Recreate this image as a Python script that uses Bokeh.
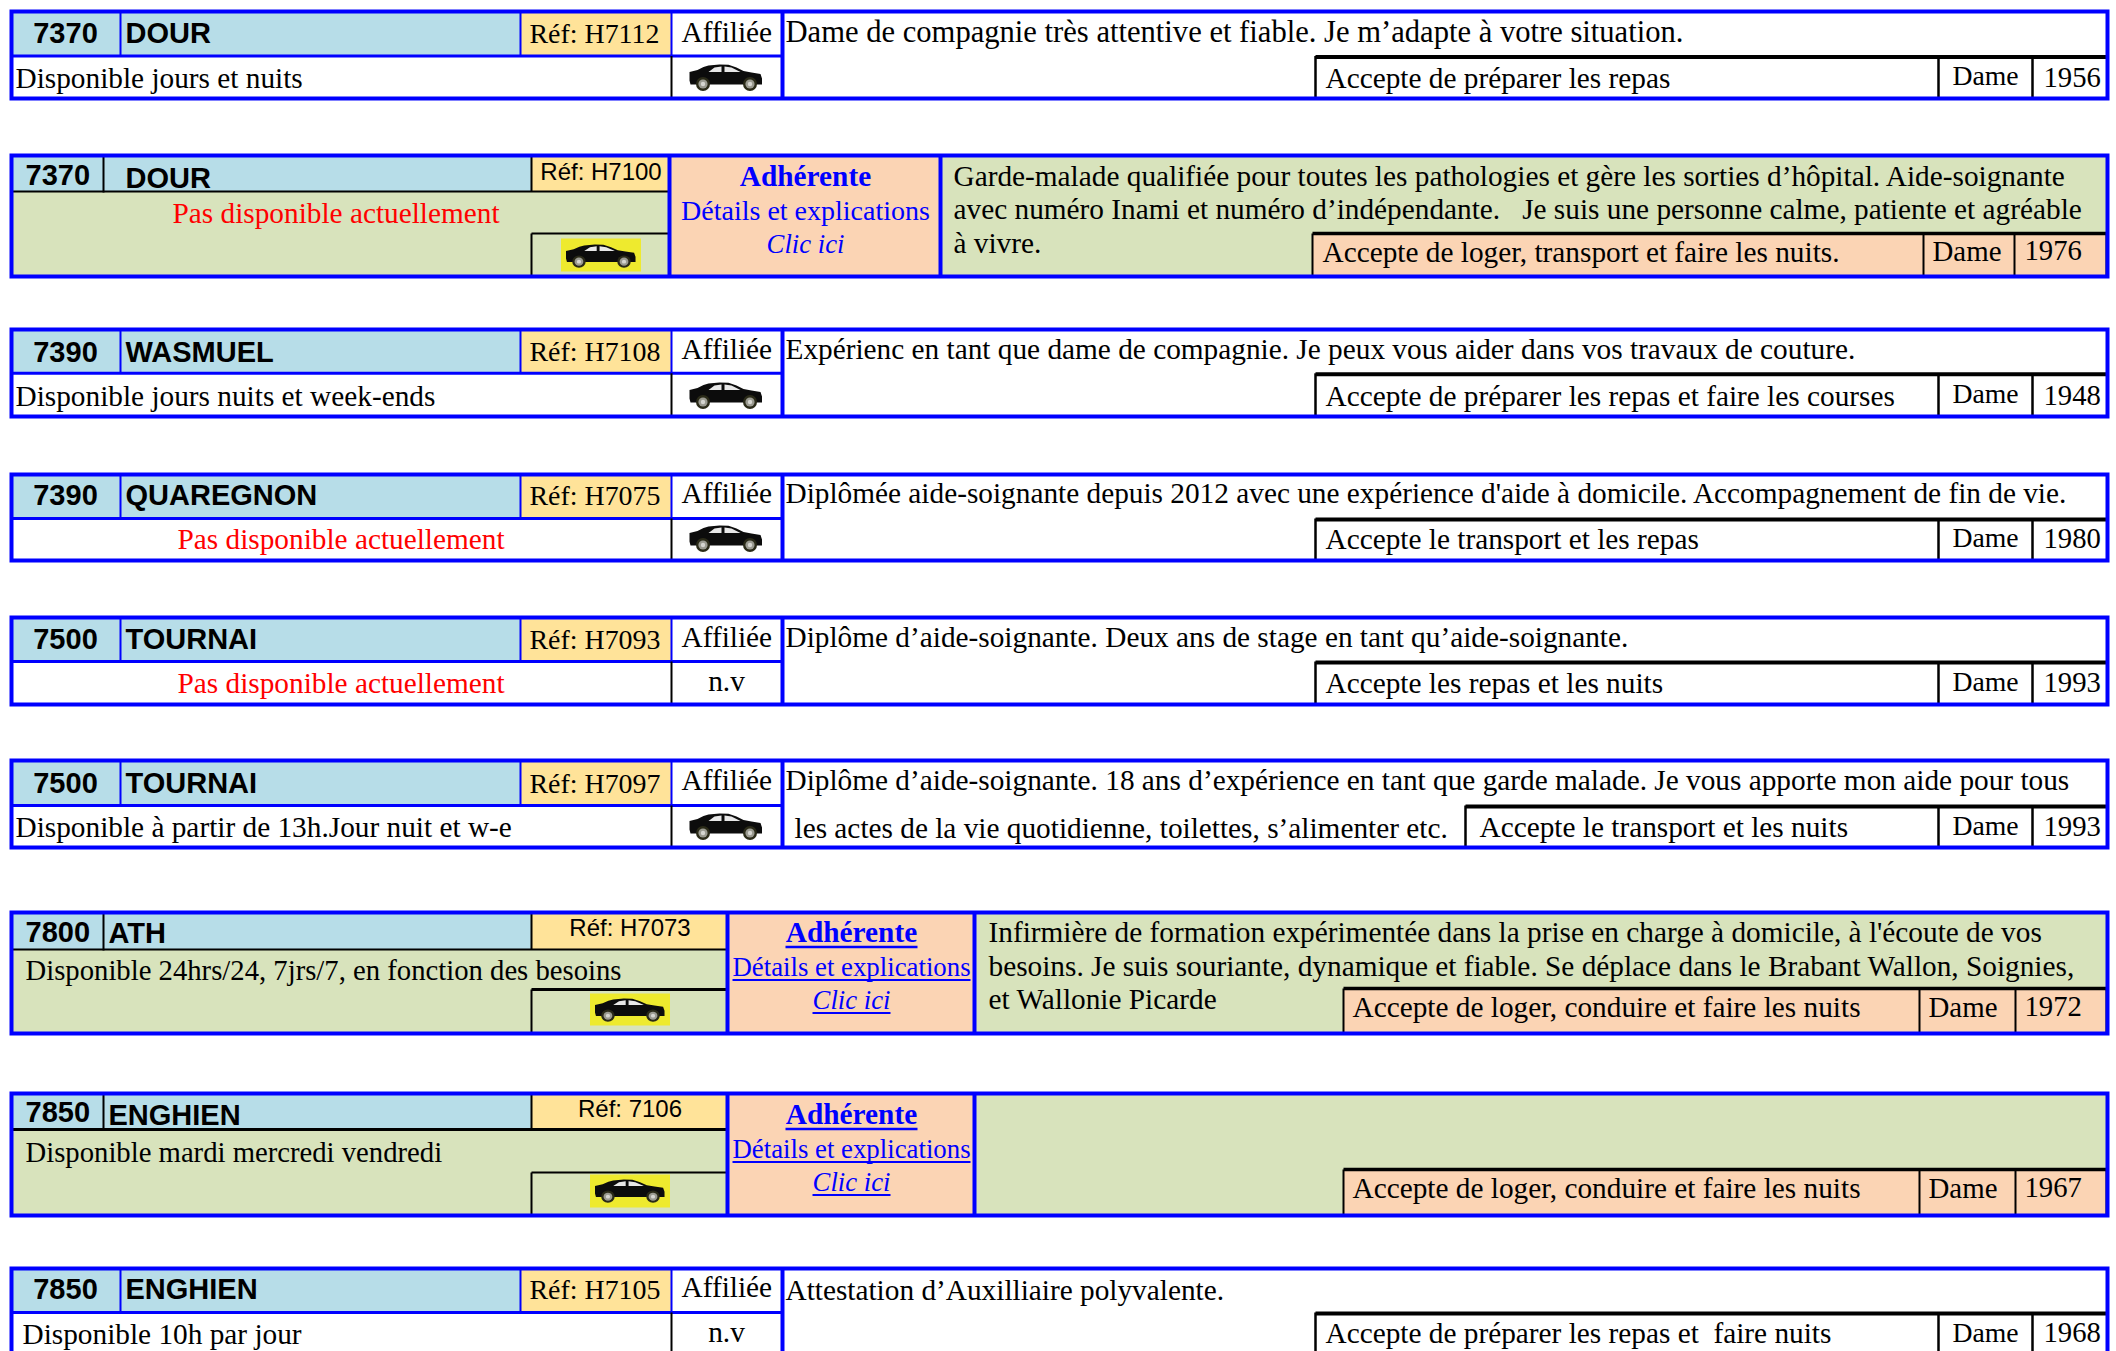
from bokeh.plotting import figure
from bokeh.models import ColumnDataSource, Range1d
from bokeh.embed import file_html
from bokeh.resources import INLINE

# ---------- values ----------
postcodes = ["7370", "7370", "7390", "7390", "7500", "7500", "7800", "7850", "7850"]
cities = ["DOUR", "DOUR", "WASMUEL", "QUAREGNON", "TOURNAI", "TOURNAI", "ATH", "ENGHIEN", "ENGHIEN"]
refs = ["Réf: H7112", "Réf: H7100", "Réf: H7108", "Réf: H7075", "Réf: H7093", "Réf: H7097", "Réf: H7073", "Réf: 7106", "Réf: H7105"]
availability = [
    "Disponible jours et nuits",
    "Pas disponible actuellement",
    "Disponible jours nuits et week-ends",
    "Pas disponible actuellement",
    "Pas disponible actuellement",
    "Disponible à partir de 13h.Jour nuit et w-e",
    "Disponible 24hrs/24, 7jrs/7, en fonction des besoins",
    "Disponible mardi mercredi vendredi",
    "Disponible 10h par jour",
]
accepts = [
    "Accepte de préparer les repas",
    "Accepte de loger, transport et faire les nuits.",
    "Accepte de préparer les repas et faire les courses",
    "Accepte le transport et les repas",
    "Accepte les repas et les nuits",
    "Accepte le transport et les nuits",
    "Accepte de loger, conduire et faire les nuits",
    "Accepte de loger, conduire et faire les nuits",
    "Accepte de préparer les repas et\u00a0 faire nuits",
]
genders = ["Dame"] * 9
years = ["1956", "1976", "1948", "1980", "1993", "1993", "1972", "1967", "1968"]
members = [False, True, False, False, False, False, True, True, False]
has_car = [True, True, True, True, False, True, True, True, False]
descriptions = [
    ["Dame de compagnie très attentive et fiable. Je m’adapte à votre situation."],
    ["Garde-malade qualifiée pour toutes les pathologies et gère les sorties d’hôpital. Aide-soignante",
     "avec numéro Inami et numéro d’indépendante.\u00a0\u00a0 Je suis une personne calme, patiente et agréable",
     "à vivre."],
    ["Expérienc en tant que dame de compagnie. Je peux vous aider dans vos travaux de couture."],
    ["Diplômée aide-soignante depuis 2012 avec une expérience d'aide à domicile. Accompagnement de fin de vie."],
    ["Diplôme d’aide-soignante. Deux ans de stage en tant qu’aide-soignante."],
    ["Diplôme d’aide-soignante. 18 ans d’expérience en tant que garde malade. Je vous apporte mon aide pour tous",
     "les actes de la vie quotidienne, toilettes, s’alimenter etc."],
    ["Infirmière de formation expérimentée dans la prise en charge à domicile, à l'écoute de vos",
     "besoins. Je suis souriante, dynamique et fiable. Se déplace dans le Brabant Wallon, Soignies,",
     "et Wallonie Picarde"],
    [],
    ["Attestation d’Auxilliaire polyvalente."],
]
adherent_labels = ["Adhérente", "Détails et explications", "Clic ici"]
status_label = "Affiliée"
no_vehicle = "n.v"

# ---------- layout ----------
BLUE, BLACK, RED = "#0000FF", "#000000", "#FF0000"
C_HEAD, C_REF, C_GREEN, C_PEACH, C_CAR = "#B7DDE8", "#FFE399", "#D8E3BC", "#FBD4B4", "#EEEA2E"
SERIF, SANS = "Liberation Serif", "Liberation Sans"
L, R = 11, 2107          # centre lines of the outer frame
SHIFT = {SERIF: 10, SANS: 11}   # the SVG text baseline lands this far under the asked y

tops = [11, 155, 329, 474, 617, 760, 912, 1093, 1268]
bots = [98, 276, 416, 560, 704, 847, 1033, 1215, 1357]

# offsets from a row's top, per white row
W_OFF = {
    0: dict(mid=44.6, num=32, city=32, ref=32, aff=30, desc=30, avail=76, car=53, acc=76, dame=74, nv=74),
    2: dict(mid=43.8, num=33, city=33, ref=32, aff=29, desc=29, avail=76, car=53, acc=76, dame=74, nv=74),
    3: dict(mid=44.0, num=31, city=31, ref=31, aff=28, desc=28, avail=74, car=51, acc=74, dame=73, nv=74),
    4: dict(mid=44.0, num=32, city=32, ref=32, aff=29, desc=29, avail=75, car=53, acc=75, dame=74, nv=73),
    5: dict(mid=45.0, num=33, city=33, ref=33, aff=29, desc=29, avail=76, car=53, acc=76, dame=75, nv=74),
    8: dict(mid=44.0, num=31, city=31, ref=31, aff=28, desc=31, avail=75, car=53, acc=74, dame=74, nv=73),
}
# offsets from a row's top, per member row
M_OFF = {
    1: dict(bl=669, br=940, ax=1312, d1=1923, d2=2014, h=36, carline=78, acctop=78, tile=83, tile2=116, car=89,
            num=30, city=33, cityx=125, ref=27.4, adh=(30, 65, 98), desc=(30, 63, 97), avail=67, acc=106, dame=105,
            adx=805, dx=953, accx=1322, damex=1932, s2=28),
    6: dict(bl=727, br=974, ax=1343, d1=1919, d2=2015, h=37, carline=77, acctop=76, tile=81, tile2=113, car=86,
            num=30, city=31, cityx=108, ref=26, adh=(29, 64, 97), desc=(29, 63, 96), avail=67, acc=104, dame=104,
            adx=851, dx=988, accx=1352, damex=1928, s2=26.8),
    7: dict(bl=727, br=974, ax=1343, d1=1919, d2=2015, h=36, carline=79, acctop=76, tile=81, tile2=114, car=86,
            num=29, city=32, cityx=108, ref=26, adh=(30, 65, 98), desc=(), avail=68, acc=104, dame=104,
            adx=851, dx=988, accx=1352, damex=1928, s2=26.8),
}

rects, segs, texts, car_calls = [], [], [], []


def rect(x0, y0, x1, y1, c):
    rects.append((x0, y0, x1, y1, c))


def seg(x0, y0, x1, y1, c, w):
    segs.append((x0, y0, x1, y1, c, w))


def txt(x, y, s, font=SERIF, size=29.3, color=BLACK, style="normal", align="left"):
    texts.append((x, y - SHIFT[font], s, font, f"{size}px", color, style, align))


def white_row(i):
    t, b = tops[i], bots[i]
    o = W_OFF[i]
    mid = t + o["mid"]
    rect(L, t, 520, mid, C_HEAD)
    rect(520, t, 671, mid, C_REF)
    seg(120, t, 120, mid, BLUE, 2)
    seg(520, t, 520, mid, BLUE, 2)
    seg(671, t, 671, mid, BLUE, 2)
    seg(L, mid, 782, mid, BLUE, 3)
    seg(671, mid, 671, b, BLACK, 2)
    seg(782, t, 782, b, BLUE, 4)
    ax = 1465 if i == 5 else 1315
    seg(ax, mid + 1, R, mid + 1, BLACK, 4)
    seg(ax, mid, ax, b, BLACK, 2.5)
    seg(1938, mid, 1938, b, BLACK, 2.5)
    seg(2032, mid, 2032, b, BLACK, 2.5)
    txt(65, t + o["num"], postcodes[i], SANS, 29, style="bold", align="center")
    txt(125, t + o["city"], cities[i], SANS, 29, style="bold")
    txt(529, t + o["ref"], refs[i], size=27.9)
    txt(681, t + o["aff"], status_label)
    d = descriptions[i]
    txt(785, t + o["desc"], d[0], size=30.6 if i == 0 else 29.3)
    if len(d) > 1:
        txt(794, t + 77, d[1])
    a = availability[i]
    if a.startswith("Pas"):
        txt(177, t + o["avail"], a, color=RED)
    else:
        txt(22 if i == 8 else 15, t + o["avail"], a)
    if has_car[i]:
        car_calls.append((689, t + o["car"], 1.0, 1.0))
    else:
        txt(726, t + o["nv"], no_vehicle, align="center")
    txt(1479 if i == 5 else 1325, t + o["acc"], accepts[i])
    txt(1952, t + o["dame"], genders[i], size=27.7)
    txt(2043, t + o["acc"], years[i], size=28.7)


def member_row(i):
    t, b = tops[i], bots[i]
    o = M_OFF[i]
    row2 = i == 1
    bl, br, ax, d1, d2 = o["bl"], o["br"], o["ax"], o["d1"], o["d2"]
    h = t + o["h"]
    carline = t + o["carline"]
    acctop = t + o["acctop"]
    rect(L, t, bl, b, C_GREEN)
    rect(L, t, 531, h, C_HEAD)
    rect(531, t, bl, h, C_REF)
    rect(bl, t, br, b, C_PEACH)
    rect(br, t, R, b, C_GREEN)
    rect(ax, acctop, R, b, C_PEACH)
    seg(L, h, bl, h, BLACK, 2 if i != 7 else 3)
    seg(103, t, 103, h + 1, BLACK, 2)
    seg(531, t, 531, h, BLACK, 2)
    seg(531, carline, bl, carline, BLACK, 2 if i != 6 else 3)
    seg(531, carline, 531, b, BLACK, 2)
    seg(ax, acctop, R, acctop, BLACK, 3.5)
    seg(ax, acctop, ax, b, BLACK, 2)
    seg(d1, acctop, d1, b, BLACK, 2)
    seg(d2, acctop, d2, b, BLACK, 2)
    seg(R - 1, acctop, R - 1, b, BLACK, 2)
    seg(bl, t, bl, b, BLUE, 4)
    seg(br, t, br, b, BLUE, 4)
    cx = (bl + 531) / 2 + 0.5
    rect(cx - 40, t + o["tile"], cx + 40, t + o["tile2"], C_CAR)
    car_calls.append((cx - 35, t + o["car"], 70 / 73, 0.88))
    txt(25, t + o["num"], postcodes[i], SANS, 29, style="bold")
    txt(o["cityx"], t + o["city"], cities[i], SANS, 29, style="bold")
    txt(cx, t + o["ref"], refs[i], SANS, 24, align="center")
    ad = o["adx"]
    y1, y2, y3 = o["adh"]
    txt(ad, t + y1, adherent_labels[0], style="bold", color=BLUE, align="center")
    txt(ad, t + y2, adherent_labels[1], size=o["s2"], color=BLUE, align="center")
    txt(ad, t + y3, adherent_labels[2], size=26.7, color=BLUE, style="italic", align="center")
    if not row2:
        seg(ad - 66, t + y1 + 5.5, ad + 66, t + y1 + 5.5, BLUE, 2.5)
        seg(ad - 119, t + y2 + 3.5, ad + 119, t + y2 + 3.5, BLUE, 2)
        seg(ad - 39, t + y3 + 3.5, ad + 39, t + y3 + 3.5, BLUE, 2)
    for k, line in enumerate(descriptions[i]):
        txt(o["dx"], t + o["desc"][k], line)
    a = availability[i]
    if a.startswith("Pas"):
        txt(172, t + o["avail"], a, color=RED)
    else:
        txt(25, t + o["avail"], a, size=28.7)
    txt(o["accx"], t + o["acc"], accepts[i])
    txt(o["damex"], t + o["dame"], genders[i], size=28.9)
    txt(2024, t + o["dame"], years[i], size=28.7)


for i in range(len(postcodes)):
    (member_row if members[i] else white_row)(i)

frames = [(tops[i], bots[i]) for i in range(len(tops))]

p = figure(width=2116, height=1351, x_range=Range1d(0, 2116), y_range=Range1d(1351, 0),
           output_backend="svg", toolbar_location=None, min_border=0,
           x_axis_location=None, y_axis_location=None)
p.grid.visible = False
p.outline_line_color = None
p.background_fill_color = "#FFFFFF"
p.border_fill_color = "#FFFFFF"

a = list(zip(*rects))
p.quad(left=list(a[0]), top=list(a[1]), right=list(a[2]), bottom=list(a[3]),
       fill_color=list(a[4]), line_color=None)

# car icon, drawn in its own little coordinate frame (width 73, height 27)
BODY = [(0, 7.5), (8, 5.5), (14, 2.5), (19, 1), (30, 0), (39, 0.3), (47, 3), (54, 6.5), (62, 8), (71, 9.5),
        (72.5, 14), (72.5, 20), (1, 20), (0, 16)]
WIN1 = [(19, 7.5), (25, 3), (32, 2), (32, 7.5)]
WIN2 = [(35, 2), (42, 3), (51, 7.5), (35, 7.5)]
WHEELS = [13.5, 60.5]

body_x, body_y, win_x, win_y = [], [], [], []
wx, wy, ww, wh, wc = [], [], [], [], []
for cx0, cy0, sx, sy in car_calls:
    body_x.append([cx0 + q[0] * sx for q in BODY])
    body_y.append([cy0 + q[1] * sy for q in BODY])
    for W in (WIN1, WIN2):
        win_x.append([cx0 + q[0] * sx for q in W])
        win_y.append([cy0 + q[1] * sy for q in W])
    for wheel in WHEELS:
        for r, c in ((7, "#2A2A18"), (4.6, "#9A9A90"), (2.2, "#D5D5D0")):
            wx.append(cx0 + wheel * sx)
            wy.append(cy0 + 19.5 * sy)
            ww.append(2 * r * sx)
            wh.append(2 * r * sy)
            wc.append(c)
p.patches(body_x, body_y, fill_color="#0C0C0C", line_color=None)
p.patches(win_x, win_y, fill_color="#E8E8E8", line_color=None)
p.ellipse(x=wx, y=wy, width=ww, height=wh, fill_color=wc, line_color=None)

a = list(zip(*segs))
p.segment(x0=list(a[0]), y0=list(a[1]), x1=list(a[2]), y1=list(a[3]),
          line_color=list(a[4]), line_width=list(a[5]), line_cap="butt")

# outer frames
p.quad(left=[L] * len(frames), right=[R] * len(frames),
       top=[f[0] for f in frames], bottom=[f[1] for f in frames],
       fill_color=None, line_color=BLUE, line_width=4, line_join="miter")

a = list(zip(*texts))
src = ColumnDataSource(dict(x=list(a[0]), y=list(a[1]), s=list(a[2]), font=list(a[3]), size=list(a[4]),
                            color=list(a[5]), style=list(a[6]), align=list(a[7])))
p.text(x="x", y="y", text="s", source=src, text_font="font", text_font_size="size", text_color="color",
       text_font_style="style", text_align="align", text_baseline="alphabetic")

open("out.html", "w").write(file_html(p, INLINE))
